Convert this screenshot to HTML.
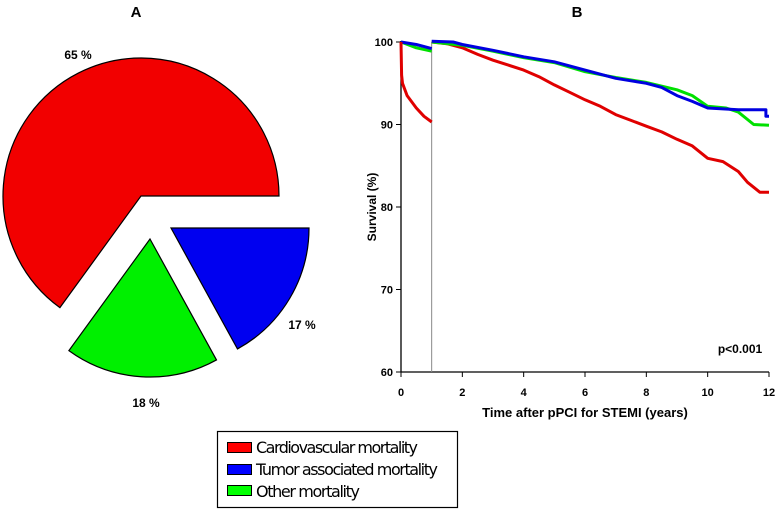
<!DOCTYPE html>
<html><head><meta charset="utf-8"><style>
body{margin:0;background:#fff;width:780px;height:512px;overflow:hidden;font-family:"Liberation Sans",Arial,sans-serif}
</style></head><body>
<svg width="780" height="512" xmlns="http://www.w3.org/2000/svg">
<text x="136" y="17" font-size="15" font-weight="bold" text-anchor="middle">A</text>
<text x="577" y="17" font-size="15" font-weight="bold" text-anchor="middle">B</text>
<g id="pie"></g>
<text x="78" y="59" font-size="12" font-weight="bold" text-anchor="middle">65 %</text>
<text x="302" y="329" font-size="12" font-weight="bold" text-anchor="middle">17 %</text>
<text x="146" y="407" font-size="12" font-weight="bold" text-anchor="middle">18 %</text>
<g id="km"></g>
<text x="740" y="353" font-size="12" font-weight="bold" text-anchor="middle">p&lt;0.001</text>
<text x="585" y="417" font-size="13" font-weight="bold" text-anchor="middle">Time after pPCI for STEMI (years)</text>
<text transform="translate(376,207) rotate(-90)" font-size="12" font-weight="bold" text-anchor="middle">Survival (%)</text>
<g>
<rect x="217.5" y="431.5" width="240" height="76" fill="#fff" stroke="#000" stroke-width="1.2"/>
<rect x="227.5" y="442.5" width="24" height="10" fill="#f00" stroke="#000"/>
<text x="256" y="453" font-size="16" font-family="DejaVu Sans,sans-serif" textLength="162">Cardiovascular mortality</text>
<rect x="227.5" y="464.5" width="24" height="10" fill="#00f" stroke="#000"/>
<text x="256" y="475" font-size="16" font-family="DejaVu Sans,sans-serif" textLength="182">Tumor associated mortality</text>
<rect x="227.5" y="485.5" width="24" height="10" fill="#0f0" stroke="#000"/>
<text x="256" y="497" font-size="16" font-family="DejaVu Sans,sans-serif" textLength="104">Other mortality</text>
</g>
</svg>
<script>
const pieLabels=['Cardiovascular','Tumor','Other'];
const pieValues=[65,17,18];
const pieColors=['#f20000','#0000f0','#00f000'];

const yTicks=[60,70,80,90,100];
const xTicks=[0,2,4,6,8,10,12];
const redT1=[0,0.02,0.05,0.2,0.5,0.75,1];
const redV1=[100,96,95,93.5,92,91,90.3];
const redT2=[1,1.5,2,2.5,3,3.5,4,4.5,5,5.5,6,6.5,7,7.5,8,8.5,9,9.5,10,10.5,11,11.3,11.7,12];
const redV2=[100,99.8,99.3,98.5,97.8,97.2,96.6,95.8,94.8,93.9,93,92.2,91.2,90.5,89.8,89.1,88.2,87.4,85.9,85.5,84.3,83,81.8,81.8];
const greenT1=[0,0.5,1];
const greenV1=[100,99.3,98.9];
const greenT2=[1,2,3,4,5,6,7,8,9,9.5,10,10.6,11,11.5,12];
const greenV2=[100,99.6,98.9,98.1,97.5,96.4,95.7,95.1,94.2,93.5,92.2,92,91.5,90,89.9];
const blueT1=[0,0.5,1];
const blueV1=[100,99.7,99.2];
const blueT2=[1,1.7,2,3,4,5,6,7,8,8.5,9,9.5,10,11,11.9,11.9,12];
const blueV2=[100.1,100,99.7,99,98.2,97.6,96.6,95.6,95,94.5,93.5,92.8,92,91.8,91.8,91,91];

const NS='http://www.w3.org/2000/svg';
function mk(tag,attrs,parent){const e=document.createElementNS(NS,tag);for(const k in attrs)e.setAttribute(k,attrs[k]);parent.appendChild(e);return e;}

// pie
const pie=document.getElementById('pie');
const cx=141,cy=196,r=138;
const offs=[[0,0],[30,32],[9,43]];
const total=pieValues.reduce((a,b)=>a+b,0);
let angles=[];
let redSpan=pieValues[0]/total*360;
angles.push([-redSpan,0]);
let a=0;
for(let i=1;i<pieValues.length;i++){const s=pieValues[i]/total*360;angles.push([a,a+s]);a+=s;}
angles.forEach((ang,i)=>{
  const [a0,a1]=ang;
  const ox=cx+offs[i][0],oy=cy+offs[i][1];
  const p0=[ox+r*Math.cos(a0*Math.PI/180),oy+r*Math.sin(a0*Math.PI/180)];
  const p1=[ox+r*Math.cos(a1*Math.PI/180),oy+r*Math.sin(a1*Math.PI/180)];
  const large=(a1-a0)>180?1:0;
  const p=mk('path',{d:`M${ox},${oy}L${p0[0]},${p0[1]}A${r},${r} 0 ${large} 1 ${p1[0]},${p1[1]}Z`,fill:pieColors[i],stroke:'#000','stroke-width':1.2},pie);
  
  
});

// KM
const km=document.getElementById('km');
const X=t=>401+t*(769-401)/12;
const Y=v=>372-(v-60)*(372-42)/40;
const ax=mk('path',{d:`M${X(0)},${Y(100)-1}V${Y(60)}H${X(12)}`,fill:'none',stroke:'#000','stroke-width':1.3},km);


yTicks.forEach(v=>{
  const l=mk('line',{x1:X(0)-5,x2:X(0),y1:Y(v),y2:Y(v),stroke:'#000'},km);
  
  
  const t=mk('text',{x:X(0)-8,y:Y(v)+4,'font-size':11,'font-weight':'bold','text-anchor':'end'},km);t.textContent=v;
  
  
});
xTicks.forEach(v=>{
  const l=mk('line',{x1:X(v),x2:X(v),y1:Y(60),y2:Y(60)+5,stroke:'#000'},km);
  
  
  const t=mk('text',{x:X(v),y:396,'font-size':11,'font-weight':'bold','text-anchor':'middle'},km);t.textContent=v;
  
  
});
const vl=mk('line',{x1:X(1),x2:X(1),y1:Y(100),y2:Y(60),stroke:'#888','stroke-width':1},km);


function curve(T,V,color,name){
  const d=T.map((t,i)=>(i?'L':'M')+X(t).toFixed(1)+','+Y(V[i]).toFixed(1)).join('');
  const p=mk('path',{d:d,fill:'none',stroke:color,'stroke-width':3,'stroke-linejoin':'round'},km);
  
  
}
curve(greenT1,greenV1,'#00e000','line-other-early');
curve(blueT1,blueV1,'#0000e0','line-tumor-early');
curve(redT1,redV1,'#e00000','line-cardio-early');
curve(redT2,redV2,'#e00000','line-cardio');
curve(greenT2,greenV2,'#00e000','line-other');
curve(blueT2,blueV2,'#0000e0','line-tumor');
</script>
</body></html>
